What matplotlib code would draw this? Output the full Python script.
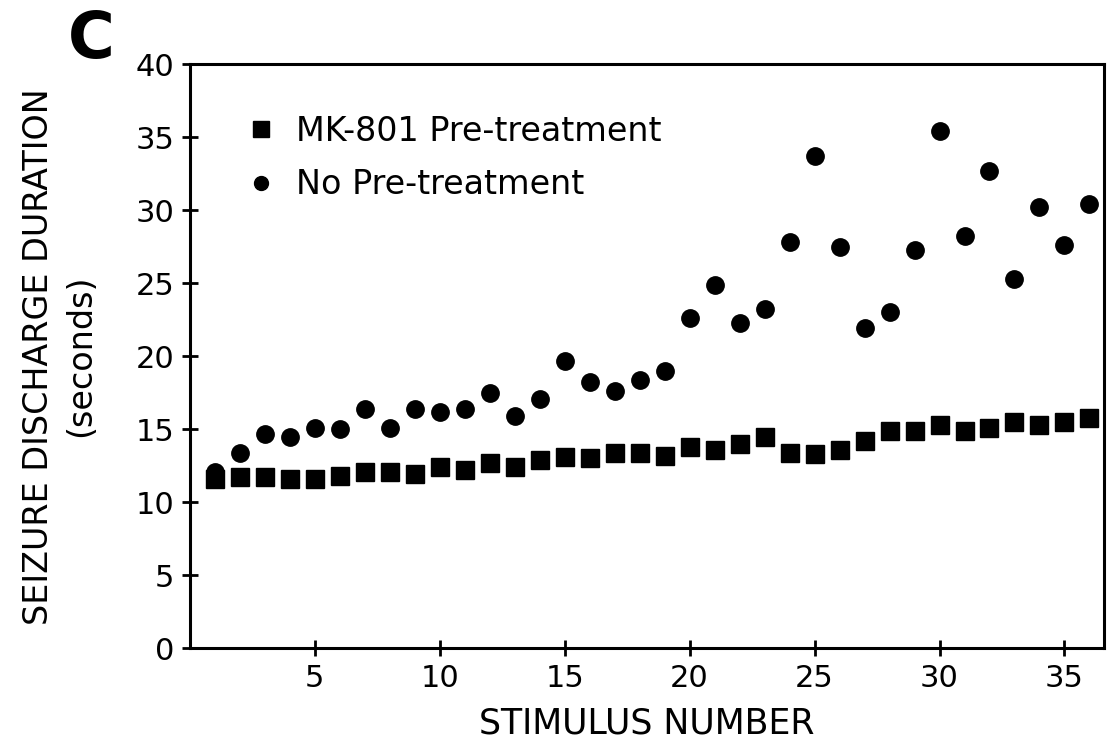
import matplotlib
matplotlib.use("Agg")
import matplotlib.pyplot as plt
from matplotlib.lines import Line2D

stimulus = list(range(1, 37))
mk801 = [11.6, 11.7, 11.7, 11.6, 11.6, 11.8, 12.1, 12.1, 11.9, 12.4, 12.2, 12.7,
         12.4, 12.9, 13.1, 13.0, 13.4, 13.4, 13.2, 13.8, 13.6, 14.0, 14.5, 13.4,
         13.3, 13.6, 14.2, 14.9, 14.9, 15.3, 14.9, 15.1, 15.5, 15.3, 15.5, 15.8]
no_pre = [12.1, 13.4, 14.7, 14.5, 15.1, 15.0, 16.4, 15.1, 16.4, 16.2, 16.4, 17.5,
          15.9, 17.1, 19.7, 18.2, 17.6, 18.4, 19.0, 22.6, 24.9, 22.3, 23.2, 27.8,
          33.7, 27.5, 21.9, 23.0, 27.3, 35.4, 28.2, 32.7, 25.3, 30.2, 27.6, 30.4]
xticks = [5, 10, 15, 20, 25, 30, 35]
yticks = [0, 5, 10, 15, 20, 25, 30, 35, 40]

plt.rcParams['font.family'] = ['DejaVu Sans']

fig = plt.figure(figsize=(11.1, 7.53), dpi=100)
ax = fig.add_axes([0.171, 0.139, 0.824, 0.776])

ax.plot(stimulus, mk801, linestyle='none', marker='s', markersize=13,
        color='black', label='MK-801 Pre-treatment')
ax.plot(stimulus, no_pre, linestyle='none', marker='o', markersize=12.5,
        color='black', label='No Pre-treatment')

ax.set_xlim(0, 36.6)
ax.set_ylim(0, 40)
ax.set_xticks(xticks)
ax.set_yticks(yticks)
ax.tick_params(direction='inout', length=12, width=2, labelsize=22, pad=5)
for s in ax.spines.values():
    s.set_linewidth(2.2)

ax.set_xlabel('STIMULUS NUMBER', fontsize=25, labelpad=10)
ax.set_ylabel('SEIZURE DISCHARGE DURATION\n(seconds)', fontsize=24,
              labelpad=28, linespacing=1.35)

handles = [Line2D([], [], linestyle='none', marker='s', markersize=11, color='black'),
           Line2D([], [], linestyle='none', marker='o', markersize=10, color='black')]
ax.legend(handles, ['MK-801 Pre-treatment', 'No Pre-treatment'],
          loc='upper left', bbox_to_anchor=(0.045, 0.936), frameon=False,
          fontsize=24, handletextpad=0.55, labelspacing=0.62, handlelength=1.0,
          borderaxespad=0.0)

fig.text(0.082, 0.947, 'C', fontsize=46, fontweight='bold', ha='center', va='center')

fig.savefig('out.png', dpi=100, facecolor='white')
